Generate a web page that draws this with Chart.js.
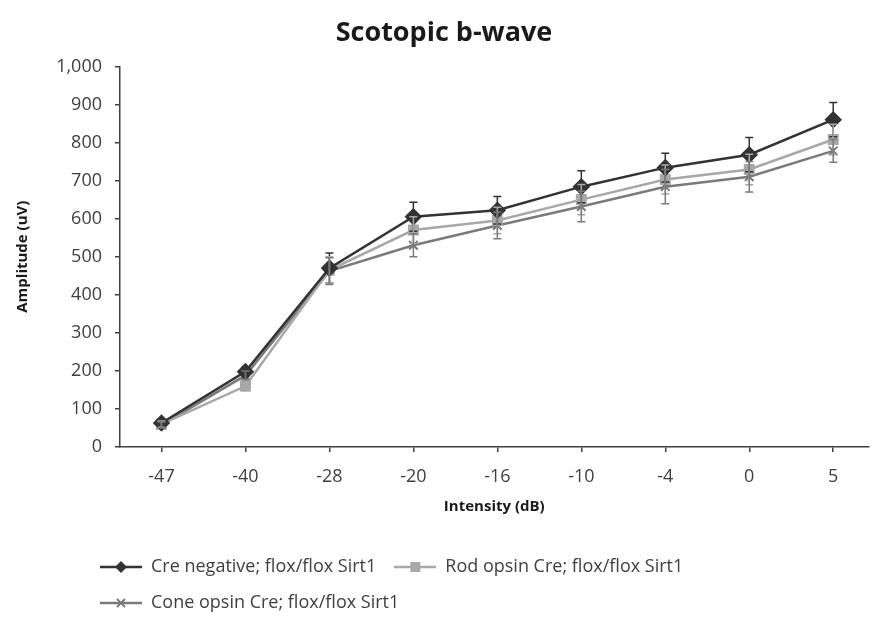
<!DOCTYPE html>
<html>
<head>
<meta charset="utf-8">
<script src="https://cdn.jsdelivr.net/npm/chart.js@4.4.1/dist/chart.umd.min.js"></script>
<style>
  html, body { margin: 0; padding: 0; background: #fff; }
  #wrap { width: 878px; height: 622px; }
</style>
</head>
<body>
<div id="wrap"><canvas id="myChart" width="878" height="622"></canvas></div>
<script>
// data
const intensities = ['-47', '-40', '-28', '-20', '-16', '-10', '-4', '0', '5']
const creNegative = [63, 198, 470, 605, 622, 684, 734, 768, 860]
const creNegativeErr = [10, 12, 40, 38, 36, 42, 38, 45, 45]
const rodOpsin = [60, 160, 465, 570, 595, 650, 703, 729, 808]
const rodOpsinErr = [8, 12, 35, 35, 35, 40, 38, 40, 40]
const coneOpsin = [58, 188, 462, 530, 582, 632, 684, 710, 778]
const coneOpsinErr = [8, 12, 35, 30, 35, 40, 45, 40, 30]
const yTicks = [0, 100, 200, 300, 400, 500, 600, 700, 800, 900, 1000]

const FONT = "'Open Sans', sans-serif"
const axisColor = '#404040'

// small canvas used as legend symbol: line with the marker in the middle
function legendSymbol (color, shape) {
  const c = document.createElement('canvas')
  c.width = 42
  c.height = 14
  const g = c.getContext('2d')
  g.strokeStyle = color
  g.fillStyle = color
  g.lineWidth = 2.5
  g.beginPath()
  g.moveTo(0, 7)
  g.lineTo(42, 7)
  g.stroke()
  g.beginPath()
  if (shape === 'rectRot') {
    g.moveTo(21, 1); g.lineTo(27, 7); g.lineTo(21, 13); g.lineTo(15, 7); g.closePath(); g.fill()
  } else if (shape === 'rect') {
    g.fillRect(16, 2, 10, 10)
  } else {
    g.lineWidth = 2
    g.moveTo(17, 3); g.lineTo(25, 11); g.moveTo(25, 3); g.lineTo(17, 11); g.stroke()
  }
  return c
}

function toPoints (values) {
  return values.map((v, i) => ({ x: i, y: v }))
}

const errorBars = {
  id: 'errorBars',
  afterDatasetsDraw (chart) {
    const ctx = chart.ctx
    const yScale = chart.scales.y
    chart.data.datasets.forEach((ds, d) => {
      const meta = chart.getDatasetMeta(d)
      ctx.save()
      ctx.strokeStyle = ds.borderColor
      ctx.lineWidth = 1.5
      meta.data.forEach((pt, i) => {
        const v = ds.data[i].y
        const e = ds.errors[i]
        const top = yScale.getPixelForValue(v + e)
        const bot = yScale.getPixelForValue(v - e)
        ctx.beginPath()
        ctx.moveTo(pt.x, top); ctx.lineTo(pt.x, bot)
        ctx.moveTo(pt.x - 4, top); ctx.lineTo(pt.x + 4, top)
        ctx.moveTo(pt.x - 4, bot); ctx.lineTo(pt.x + 4, bot)
        ctx.stroke()
      })
      ctx.restore()
    })
  }
}

// move the legend rows to start under the y axis labels like the original
const legendShift = {
  id: 'legendShift',
  afterLayout (chart) {
    chart.legend.left = 82
  }
}

const symbols = [
  legendSymbol('#333333', 'rectRot'),
  legendSymbol('#a8a8a8', 'rect'),
  legendSymbol('#7a7a7a', 'crossRot')
]

new Chart(document.getElementById('myChart'), {
  type: 'line',
  data: {
    datasets: [
      {
        label: 'Cre negative; flox/flox Sirt1',
        data: toPoints(creNegative),
        errors: creNegativeErr,
        borderColor: '#333333',
        backgroundColor: '#333333',
        borderWidth: 2.5,
        pointStyle: 'rectRot',
        pointRadius: 7,
        pointBackgroundColor: '#333333',
        pointBorderColor: '#333333'
      },
      {
        label: 'Rod opsin Cre; flox/flox Sirt1',
        data: toPoints(rodOpsin),
        errors: rodOpsinErr,
        borderColor: '#a8a8a8',
        backgroundColor: '#a8a8a8',
        borderWidth: 2.5,
        pointStyle: 'rect',
        pointRadius: 6,
        pointBackgroundColor: '#a8a8a8',
        pointBorderColor: '#a8a8a8'
      },
      {
        label: 'Cone opsin Cre; flox/flox Sirt1',
        data: toPoints(coneOpsin),
        errors: coneOpsinErr,
        borderColor: '#7a7a7a',
        backgroundColor: '#7a7a7a',
        borderWidth: 2.5,
        pointStyle: 'crossRot',
        pointRadius: 6,
        pointBorderWidth: 2,
        pointBorderColor: '#7a7a7a'
      }
    ]
  },
  options: {
    responsive: false,
    animation: false,
    layout: { padding: { top: 6, left: 10, right: 0, bottom: 0 } },
    plugins: {
      title: {
        display: true,
        text: 'Scotopic b-wave',
        color: '#1a1a1a',
        font: { family: FONT, size: 27, weight: 'bold' },
        padding: { top: 11, bottom: 17 }
      },
      legend: {
        position: 'bottom',
        align: 'start',
        labels: {
          usePointStyle: true,
          pointStyleWidth: 42,
          boxHeight: 14,
          padding: 18,
          color: axisColor,
          font: { family: FONT, size: 18 },
          generateLabels (chart) {
            const items = Chart.defaults.plugins.legend.labels.generateLabels(chart)
            items.forEach((it, i) => { it.pointStyle = symbols[i] })
            return items
          }
        }
      },
      tooltip: { enabled: false }
    },
    scales: {
      x: {
        type: 'linear',
        min: -0.494,
        max: 8.42,
        afterBuildTicks (scale) {
          scale.ticks = intensities.map((_, i) => ({ value: i }))
        },
        afterFit (scale) { scale.height = 93 },
        ticks: {
          color: axisColor,
          font: { family: FONT, size: 18 },
          padding: 14,
          callback: (v) => intensities[v]
        },
        grid: { drawOnChartArea: false, drawTicks: true, tickLength: 5, color: axisColor, lineWidth: 1.5 },
        border: { display: true, color: axisColor, width: 1.5 },
        title: {
          display: true,
          text: 'Intensity (dB)',
          color: '#1a1a1a',
          font: { family: FONT, size: 15, weight: 'bold' },
          padding: { top: 0, bottom: 24 }
        }
      },
      y: {
        min: 0,
        max: 1000,
        afterBuildTicks (scale) {
          scale.ticks = yTicks.map(v => ({ value: v }))
        },
        afterFit (scale) { scale.width = 110 },
        ticks: {
          color: axisColor,
          font: { family: FONT, size: 18 },
          padding: 13,
          callback: (v) => v.toLocaleString('en-US')
        },
        grid: { drawOnChartArea: false, drawTicks: true, tickLength: 5, color: axisColor, lineWidth: 1.5 },
        border: { display: true, color: axisColor, width: 1.5 },
        title: {
          display: true,
          text: 'Amplitude (uV)',
          color: '#1a1a1a',
          font: { family: FONT, size: 15, weight: 'bold' },
          padding: { top: 4, bottom: 0 }
        }
      }
    }
  },
  plugins: [errorBars, legendShift]
})
</script>
</body>
</html>
